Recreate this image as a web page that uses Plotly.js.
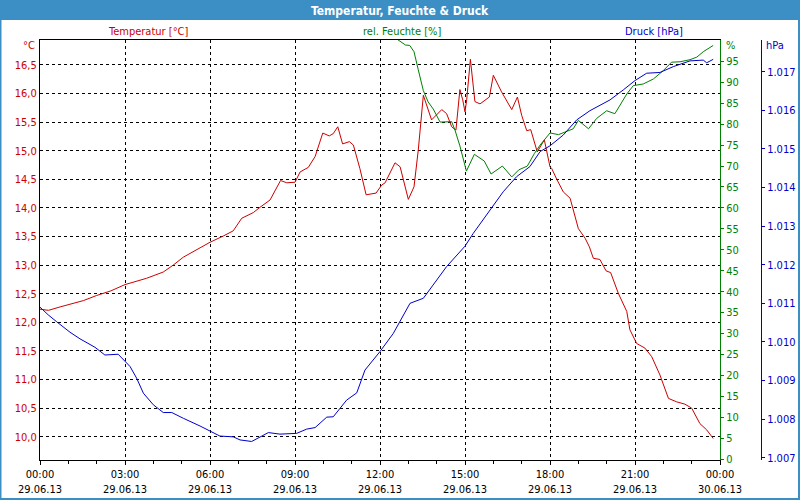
<!DOCTYPE html>
<html><head><meta charset="utf-8">
<script src="https://cdn.plot.ly/plotly-3.0.1.min.js"></script>
<style>html,body{margin:0;padding:0;background:#fff}</style>
</head><body><div id="chart" style="width:800px;height:500px"></div>
<script>
// ---- data (hours since 29.06.13 00:00) ----
const chartTitle = "Temperatur, Feuchte & Druck";
const seriesNames = ["Temperatur [°C]", "rel. Feuchte [%]", "Druck [hPa]"];
const unitLabels = ["°C", "%", "hPa"];

const hoursT = [0.00,0.30,0.71,1.10,1.53,2.00,2.50,3.00,3.40,3.76,4.35,4.70,5.06,5.50,6.00,6.47,6.82,7.12,7.53,7.76,8.12,8.49,8.71,9.00,9.18,9.47,9.71,9.98,10.21,10.35,10.51,10.68,10.92,11.06,11.29,11.51,11.86,12.06,12.18,12.53,12.71,13.00,13.20,13.35,13.53,13.82,14.18,14.35,14.53,14.68,14.82,14.92,15.00,15.06,15.19,15.35,15.53,15.86,16.00,16.29,16.65,16.85,17.00,17.18,17.32,17.55,17.80,18.00,18.06,18.24,18.47,18.71,18.88,19.00,19.24,19.39,19.53,19.76,19.98,20.14,20.41,20.71,20.82,21.06,21.35,21.59,21.88,22.18,22.47,22.76,23.00,23.29,23.53,23.76];
const tempC = [12.23,12.21,12.27,12.32,12.38,12.47,12.55,12.66,12.72,12.77,12.88,13.00,13.14,13.26,13.40,13.51,13.60,13.82,13.92,14.01,14.14,14.48,14.44,14.45,14.63,14.71,14.90,15.31,15.26,15.30,15.42,15.12,15.16,15.10,14.69,14.23,14.26,14.40,14.44,14.79,14.72,14.15,14.37,15.01,15.97,15.54,15.72,15.65,15.42,15.36,16.07,15.89,15.68,15.89,16.60,15.86,15.82,15.94,16.32,16.03,15.72,15.94,15.62,15.35,15.37,14.98,15.19,14.72,14.69,14.50,14.28,14.17,13.85,13.64,13.47,13.32,13.12,13.10,12.90,12.87,12.51,12.19,11.87,11.63,11.55,11.40,11.08,10.67,10.61,10.57,10.50,10.23,10.12,9.97];

const hoursH = [12.60,12.78,12.90,13.05,13.20,13.35,13.53,13.70,13.88,14.12,14.35,14.53,14.65,14.82,15.05,15.33,15.68,15.92,16.32,16.65,16.90,17.20,17.45,17.65,18.00,18.30,18.82,19.00,19.36,19.65,20.00,20.29,20.71,20.94,21.29,21.65,22.00,22.29,22.59,22.94,23.18,23.41,23.76];
const humidity = [100.3,99.4,98.9,98.8,97.3,93.0,88.0,85.3,83.6,80.5,80.5,80.6,78.5,74.8,68.8,72.8,71.2,68.1,70.0,67.4,69.1,70.0,73.0,75.0,77.9,77.5,78.9,80.9,78.9,81.4,83.2,82.5,87.2,89.2,89.6,90.8,92.8,94.8,94.9,95.4,96.0,97.3,98.8];

const hoursP = [0.00,0.29,0.59,1.06,1.41,1.94,2.29,2.76,3.18,3.41,3.65,4.00,4.35,4.65,5.06,5.65,6.35,6.82,7.06,7.47,8.06,8.47,9.06,9.41,9.71,10.12,10.35,10.82,11.18,11.47,12.00,12.47,13.06,13.53,14.35,15.00,15.29,15.88,16.35,16.82,17.29,17.65,18.00,18.47,18.94,19.41,20.12,20.59,21.00,21.41,21.88,22.35,22.94,23.41,23.53,23.76];
const pressure = [1010.90,1010.70,1010.52,1010.25,1010.08,1009.86,1009.66,1009.68,1009.36,1009.06,1008.67,1008.37,1008.17,1008.17,1008.02,1007.82,1007.56,1007.54,1007.46,1007.42,1007.65,1007.61,1007.63,1007.74,1007.78,1008.05,1008.06,1008.49,1008.68,1009.27,1009.75,1010.22,1011.00,1011.13,1011.95,1012.48,1012.81,1013.42,1013.89,1014.28,1014.54,1014.93,1015.08,1015.36,1015.75,1015.99,1016.27,1016.53,1016.77,1016.96,1016.98,1017.13,1017.28,1017.30,1017.23,1017.32];

const xTickVals = [0,3,6,9,12,15,18,21,24];
const xTickText = ["00:00<br>29.06.13","03:00<br>29.06.13","06:00<br>29.06.13","09:00<br>29.06.13","12:00<br>29.06.13","15:00<br>29.06.13","18:00<br>29.06.13","21:00<br>29.06.13","00:00<br>30.06.13"];
const humTickVals = [0,5,10,15,20,25,30,35,40,45,50,55,60,65,70,75,80,85,90,95];

// ---- style ----
const RED = "#cc0000", GREEN = "#008000", BLUE = "#0000cc", BAR = "#3c8fc5";
const FONT = 'Tahoma, "DejaVu Sans Condensed", "Liberation Sans", sans-serif';
// plot region in pixels: x 40..770 (axes domain 40..720), y 40..460
const W = 730;
const px = x => (x - 40) / W;
const py = y => (460 - y) / 420;

const traces = [
  {x: hoursT, y: tempC, type: "scatter", mode: "lines", line: {color: RED, width: 1}, yaxis: "y", cliponaxis: true},
  {x: hoursH, y: humidity, type: "scatter", mode: "lines", line: {color: GREEN, width: 1}, yaxis: "y2", cliponaxis: true},
  {x: hoursP, y: pressure, type: "scatter", mode: "lines", line: {color: BLUE, width: 1}, yaxis: "y3", cliponaxis: true}
];

const gridDash = "3px,3px";
const layout = {
  width: 800, height: 500, autosize: false,
  margin: {l: 40, r: 30, t: 40, b: 40, pad: 0},
  paper_bgcolor: "#ffffff", plot_bgcolor: "#ffffff",
  separators: ",.",
  showlegend: false, hovermode: false,
  font: {family: FONT, size: 11, color: "#000"},
  xaxis: {
    domain: [0, px(720)],
    range: [0, 24], tickmode: "array", tickvals: xTickVals, ticktext: xTickText,
    showgrid: true, gridcolor: "#000", gridwidth: 1, griddash: gridDash,
    showline: true, linecolor: "#000", linewidth: 1, mirror: true,
    ticks: "outside", ticklen: 4, tickcolor: "#000",
    minor: {dtick: 1, tick0: 0, ticks: "outside", ticklen: 3, tickcolor: "#000", showgrid: false},
    tickfont: {family: FONT, size: 11, color: "#000"}, zeroline: false, fixedrange: true
  },
  yaxis: {
    range: [9.593, 16.937], tick0: 10, dtick: 0.5, tickformat: ".1f",
    showgrid: true, gridcolor: "#000", gridwidth: 1, griddash: gridDash,
    showline: true, linecolor: "#000", linewidth: 1,
    ticks: "", tickfont: {family: FONT, size: 11, color: RED}, zeroline: false, fixedrange: true
  },
  yaxis2: {
    overlaying: "y", side: "right", anchor: "x",
    range: [-0.2, 100.1], tickmode: "array", tickvals: humTickVals,
    showgrid: false, showline: true, linecolor: GREEN, linewidth: 1,
    ticks: "outside", ticklen: 3, tickcolor: GREEN,
    tickfont: {family: FONT, size: 11, color: GREEN}, zeroline: false, fixedrange: true
  },
  yaxis3: {
    overlaying: "y", side: "right", anchor: "free", position: px(761),
    range: [1006.94, 1017.821], tick0: 1007, dtick: 1, tickformat: ",d",
    showgrid: false, showline: true, linecolor: BLUE, linewidth: 1,
    ticks: "outside", ticklen: 3, tickcolor: BLUE,
    tickfont: {family: FONT, size: 11, color: BLUE}, zeroline: false, fixedrange: true
  },
  shapes: [
    {type: "rect", xref: "paper", yref: "paper", x0: px(0), x1: px(800), y0: py(20), y1: py(0), fillcolor: BAR, line: {width: 0}, layer: "above"},
    {type: "rect", xref: "paper", yref: "paper", x0: px(0.5), x1: px(799), y0: py(499), y1: py(0.5), fillcolor: "rgba(0,0,0,0)", line: {color: BAR, width: 2}, layer: "above"}
  ],
  annotations: [
    {text: "<b>" + chartTitle + "</b>", xref: "paper", yref: "paper", x: px(400), y: py(10.5), xanchor: "center", yanchor: "middle", showarrow: false, font: {family: FONT, size: 12, color: "#ffffff"}},
    {text: seriesNames[0], xref: "paper", yref: "paper", x: px(148), y: py(31), xanchor: "center", yanchor: "middle", showarrow: false, font: {family: FONT, size: 11, color: RED}},
    {text: seriesNames[1], xref: "paper", yref: "paper", x: px(402), y: py(31), xanchor: "center", yanchor: "middle", showarrow: false, font: {family: FONT, size: 11, color: GREEN}},
    {text: seriesNames[2], xref: "paper", yref: "paper", x: px(654), y: py(31), xanchor: "center", yanchor: "middle", showarrow: false, font: {family: FONT, size: 11, color: BLUE}},
    {text: unitLabels[0], xref: "paper", yref: "paper", x: px(37), y: py(46), xanchor: "right", yanchor: "middle", showarrow: false, font: {family: FONT, size: 11, color: RED}},
    {text: unitLabels[1], xref: "paper", yref: "paper", x: px(724), y: py(46), xanchor: "left", yanchor: "middle", showarrow: false, font: {family: FONT, size: 11, color: GREEN}},
    {text: unitLabels[2], xref: "paper", yref: "paper", x: px(764), y: py(46), xanchor: "left", yanchor: "middle", showarrow: false, font: {family: FONT, size: 11, color: BLUE}}
  ]
};

Plotly.newPlot("chart", traces, layout, {displayModeBar: false, staticPlot: true});
</script>
</body></html>
